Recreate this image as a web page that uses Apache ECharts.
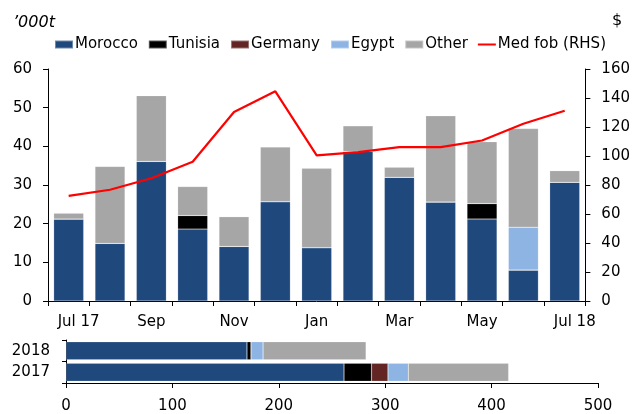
<!DOCTYPE html>
<html>
<head>
<meta charset="utf-8">
<script src="https://cdn.jsdelivr.net/npm/echarts@6/dist/echarts.min.js"></script>
<style>
  html, body { margin: 0; padding: 0; background: #fff; }
  #main { width: 633px; height: 414px; }
</style>
</head>
<body>
<div id="main"></div>
<script>
// 月度数据 ('000t)
var months = ['Jul 17', 'Aug', 'Sep', 'Oct', 'Nov', 'Dec', 'Jan', 'Feb', 'Mar', 'Apr', 'May', 'Jun', 'Jul 18'];
var morocco = [21.2, 14.9, 36.1, 18.6, 14.1, 25.7, 13.8, 38.7, 32.0, 25.6, 21.2, 8.0, 30.7];
var tunisia = [0, 0, 0, 3.5, 0, 0, 0, 0, 0, 0, 4.0, 0, 0];
var germany = [0, 0, 0, 0, 0, 0, 0, 0, 0, 0, 0, 0, 0];
var egypt = [0, 0, 0, 0, 0, 0, 0, 0, 0, 0, 0, 11.1, 0];
var other = [1.5, 19.9, 17.0, 7.5, 7.7, 14.1, 20.5, 6.6, 2.6, 22.3, 16.0, 25.5, 3.0];
// Med fob 价格 ($, 右轴)
var medFob = [72.5, 76.7, 84.7, 96, 130.3, 144.6, 100.4, 102.7, 106.1, 106.1, 110.7, 122.2, 131.2];

// 年度累计 (下方横向条形图)
var years = ['2017', '2018'];
var moroccoYear = [261.3, 170.1];
var tunisiaYear = [25.9, 3.8];
var germanyYear = [15.4, 0];
var egyptYear = [19.1, 11.3];
var otherYear = [94.3, 96.8];

var FONT = "'DejaVu Sans', sans-serif";
var colors = {
  Morocco: '#1F497D',
  Tunisia: '#000000',
  Germany: '#632523',
  Egypt: '#8DB4E2',
  Other: '#A6A6A6'
};

var chart = echarts.init(document.getElementById('main'));

function barSeries(name, data, xi, yi, horizontal) {
  return {
    name: name,
    type: 'bar',
    stack: horizontal ? 'year' : 'month',
    xAxisIndex: xi,
    yAxisIndex: yi,
    barWidth: horizontal ? 18 : 30,
    data: data,
    itemStyle: { color: colors[name], borderColor: 'rgba(255,255,255,0.35)', borderWidth: 0.5 },
    emphasis: { disabled: true }
  };
}

var axisLine = { show: true, lineStyle: { color: '#000', width: 1 } };
var axisTick = { show: true, length: 5, lineStyle: { color: '#000' } };

var option = {
  animation: false,
  textStyle: { fontFamily: FONT },
  title: [
    { text: '\u2019000t', left: 8, top: 10, textStyle: { fontFamily: FONT, fontSize: 16, fontStyle: 'italic', fontWeight: 'normal', color: '#000' } },
    { text: '$', left: 607, top: 8, textStyle: { fontFamily: FONT, fontSize: 16, fontWeight: 'normal', color: '#000' } }
  ],
  legend: {
    left: 54,
    top: 37,
    padding: 0,
    icon: 'rect',
    itemWidth: 18,
    itemHeight: 8,
    itemGap: 10,
    data: ['Morocco', 'Tunisia', 'Germany', 'Egypt', 'Other',
      { name: 'Med fob (RHS)', icon: 'path://M0,0H18V2H0Z' }],
    textStyle: { fontFamily: FONT, fontSize: 15, color: '#000', padding: [0, 0, 0, -3] }
  },
  grid: [
    { left: 48, right: 45, top: 69, bottom: 113 },
    { left: 66, right: 35, top: 340, bottom: 26 }
  ],
  xAxis: [
    {
      type: 'category',
      gridIndex: 0,
      data: months,
      axisLine: axisLine,
      axisTick: { show: true, length: 5, interval: 0, lineStyle: { color: '#000' } },
      axisLabel: {
        interval: 1,
        margin: 14,
        color: '#000',
        fontFamily: FONT,
        fontSize: 15,
        formatter: function (v) {
          if (v.indexOf('Jul') === 0) return '{j|' + v + '}';
          return v;
        },
        rich: { j: { fontFamily: FONT, fontSize: 15, color: '#000', padding: [0, 0, 0, 20] } }
      }
    },
    {
      type: 'value',
      gridIndex: 1,
      min: 0,
      max: 500,
      interval: 100,
      splitLine: { show: false },
      axisLine: axisLine,
      axisTick: axisTick,
      axisLabel: { color: '#000', fontFamily: FONT, fontSize: 15, margin: 16 }
    }
  ],
  yAxis: [
    {
      type: 'value',
      gridIndex: 0,
      min: 0,
      max: 60,
      interval: 10,
      splitLine: { show: false },
      axisLine: axisLine,
      axisTick: axisTick,
      axisLabel: { color: '#000', fontFamily: FONT, fontSize: 15, margin: 16 }
    },
    {
      type: 'value',
      gridIndex: 0,
      position: 'right',
      min: 0,
      max: 160,
      interval: 20,
      splitLine: { show: false },
      axisLine: axisLine,
      axisTick: axisTick,
      axisLabel: { color: '#000', fontFamily: FONT, fontSize: 15, margin: 16 }
    },
    {
      type: 'category',
      gridIndex: 1,
      data: years,
      axisLine: axisLine,
      axisTick: { show: true, length: 4, lineStyle: { color: '#000' } },
      axisLabel: { color: '#000', fontFamily: FONT, fontSize: 15, margin: 16 }
    }
  ],
  series: [
    barSeries('Morocco', morocco, 0, 0),
    barSeries('Tunisia', tunisia, 0, 0),
    barSeries('Germany', germany, 0, 0),
    barSeries('Egypt', egypt, 0, 0),
    barSeries('Other', other, 0, 0),
    {
      name: 'Med fob (RHS)',
      type: 'line',
      xAxisIndex: 0,
      yAxisIndex: 1,
      data: medFob,
      symbol: 'none',
      lineStyle: { color: '#FF0000', width: 2.2 },
      itemStyle: { color: '#FF0000' },
      z: 5
    },
    // 年度条形
    barSeries('Morocco', moroccoYear, 1, 2, true),
    barSeries('Tunisia', tunisiaYear, 1, 2, true),
    barSeries('Germany', germanyYear, 1, 2, true),
    barSeries('Egypt', egyptYear, 1, 2, true),
    barSeries('Other', otherYear, 1, 2, true)
  ]
};

chart.setOption(option);
</script>
</body>
</html>
